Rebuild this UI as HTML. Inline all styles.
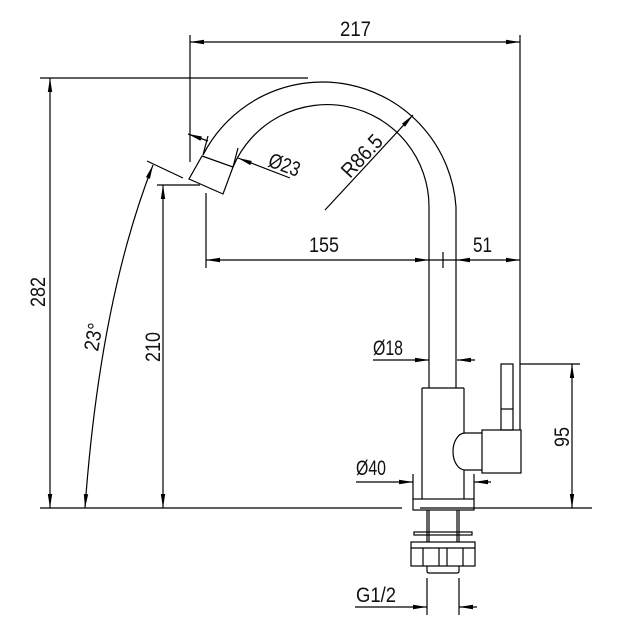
<!DOCTYPE html>
<html><head><meta charset="utf-8"><style>
html,body{margin:0;padding:0;background:#fff;}
svg{display:block;}
text{font-family:"Liberation Sans",sans-serif;font-size:21px;fill:#111;}
</style></head><body>
<svg width="626" height="642" viewBox="0 0 626 642" xmlns="http://www.w3.org/2000/svg">
<defs>
<marker id="a" viewBox="0 0 14 6" refX="14" refY="3" markerWidth="14" markerHeight="6" markerUnits="userSpaceOnUse" orient="auto-start-reverse">
<path d="M0,0.8 L14,3 L0,5.2 Z" fill="#000"/></marker>
</defs>
<g stroke="#000" stroke-width="1.2" fill="none">
<line x1="190" y1="35" x2="190" y2="162"/>
<line x1="520" y1="35" x2="520" y2="430"/>
<line x1="190" y1="42" x2="520" y2="42" marker-start="url(#a)" marker-end="url(#a)"/>
<line x1="40" y1="78" x2="308" y2="78"/>
<line x1="40" y1="508" x2="402" y2="508"/>
<line x1="420" y1="508" x2="592" y2="508"/>
<line x1="50" y1="78" x2="50" y2="508" marker-start="url(#a)" marker-end="url(#a)"/>
<line x1="157" y1="185" x2="200" y2="185"/>
<line x1="163" y1="185" x2="163" y2="508" marker-start="url(#a)" marker-end="url(#a)"/>
<line x1="147" y1="161" x2="183" y2="178"/>
<path d="M153,165 Q100,300 85,508" marker-start="url(#a)" marker-end="url(#a)"/>
<path d="M203,155 A134,134 0 0 1 456,207 L456,388"/>
<path d="M233,167 A102,102 0 0 1 429,207 L429,388"/>
<polygon points="202,156 233,167 223,194 189,179"/>
<line x1="208" y1="136" x2="203" y2="155"/>
<line x1="238" y1="148" x2="233" y2="167"/>
<line x1="188" y1="134" x2="208" y2="141" marker-start="url(#a)"/>
<line x1="290" y1="178" x2="238" y2="158" marker-end="url(#a)"/>
<line x1="325" y1="210" x2="413" y2="115" marker-end="url(#a)"/>
<line x1="206" y1="193" x2="206" y2="268"/>
<line x1="443" y1="252" x2="443" y2="268"/>
<line x1="206" y1="260" x2="429" y2="260" marker-start="url(#a)" marker-end="url(#a)"/>
<line x1="429" y1="260" x2="456" y2="260"/>
<line x1="456" y1="260" x2="520" y2="260" marker-start="url(#a)" marker-end="url(#a)"/>
<line x1="373" y1="360" x2="429" y2="360" marker-end="url(#a)"/>
<line x1="475" y1="360" x2="457" y2="360" marker-end="url(#a)"/>
<line x1="422" y1="388" x2="464" y2="388"/>
<line x1="422" y1="388" x2="422" y2="499"/>
<line x1="464" y1="388" x2="464" y2="433"/>
<line x1="464" y1="470" x2="464" y2="499"/>
<path d="M482,433 L465,433 A12,18.5 0 0 0 465,470 L482,470"/>
<rect x="482" y="430" width="39" height="43"/>
<rect x="501" y="364" width="12" height="66"/>
<line x1="501" y1="409" x2="513" y2="409"/>
<rect x="413" y="499" width="61" height="11"/>
<line x1="520" y1="364" x2="580" y2="364"/>
<line x1="572" y1="364" x2="572" y2="508" marker-start="url(#a)" marker-end="url(#a)"/>
<line x1="413" y1="474" x2="413" y2="499"/>
<line x1="474" y1="474" x2="474" y2="499"/>
<line x1="356" y1="482" x2="413" y2="482" marker-end="url(#a)"/>
<line x1="491" y1="482" x2="474" y2="482" marker-end="url(#a)"/>
<line x1="427" y1="510" x2="427" y2="542"/>
<line x1="429" y1="510" x2="429" y2="542"/>
<line x1="457" y1="510" x2="457" y2="542"/>
<line x1="459" y1="510" x2="459" y2="542"/>
<rect x="414" y="532" width="58" height="3"/>
<rect x="411" y="542" width="64" height="24"/>
<line x1="411" y1="548" x2="475" y2="548"/>
<line x1="423" y1="548" x2="423" y2="566"/>
<line x1="439" y1="548" x2="439" y2="566"/>
<line x1="447" y1="548" x2="447" y2="566"/>
<line x1="463" y1="548" x2="463" y2="566"/>
<path d="M427,566 L427,571 Q427,573 429,573 L457,573 Q459,573 459,571 L459,566"/>
<line x1="427" y1="578" x2="427" y2="615"/>
<line x1="459" y1="578" x2="459" y2="615"/>
<line x1="355" y1="607" x2="427" y2="607" marker-end="url(#a)"/>
<line x1="477" y1="607" x2="459" y2="607" marker-end="url(#a)"/>
</g>
<g>
<text x="340" y="36" textLength="31" lengthAdjust="spacingAndGlyphs">217</text>
<text x="309" y="252" textLength="30" lengthAdjust="spacingAndGlyphs">155</text>
<text x="473" y="252" textLength="19" lengthAdjust="spacingAndGlyphs">51</text>
<text x="373" y="355" textLength="30" lengthAdjust="spacingAndGlyphs">Ø18</text>
<text x="356" y="475" textLength="30" lengthAdjust="spacingAndGlyphs">Ø40</text>
<text x="356" y="602" textLength="40" lengthAdjust="spacingAndGlyphs">G1/2</text>
<text transform="translate(267,166) rotate(20)" textLength="32" lengthAdjust="spacingAndGlyphs">Ø23</text>
<text transform="translate(350,179) rotate(-47)" textLength="50" lengthAdjust="spacingAndGlyphs">R86.5</text>
<text transform="translate(45,307) rotate(-90)" textLength="30" lengthAdjust="spacingAndGlyphs">282</text>
<text transform="translate(160,362) rotate(-90)" textLength="30" lengthAdjust="spacingAndGlyphs">210</text>
<text transform="translate(98,352) rotate(-80)" textLength="28" lengthAdjust="spacingAndGlyphs">23°</text>
<text transform="translate(569,447) rotate(-90)" textLength="20" lengthAdjust="spacingAndGlyphs">95</text>
</g>
</svg>
</body></html>
